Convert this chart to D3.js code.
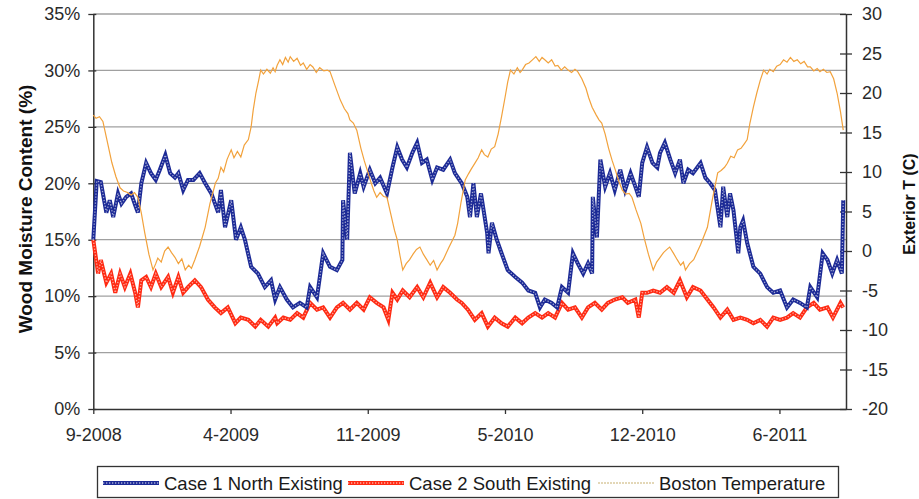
<!DOCTYPE html>
<html>
<head>
<meta charset="utf-8">
<script src="https://cdn.jsdelivr.net/npm/d3@7"></script>
<style>
  html, body { margin: 0; padding: 0; background: #fff; }
  svg { display: block; font-family: "Liberation Sans", Arial, sans-serif; }
</style>
</head>
<body>
<svg id="chart" width="919" height="499"></svg>
<script>
// Days are counted from 28 Sep 2008.
const xTickDays = [0, 200, 400, 600, 800, 1000];
const xTickLabels = ["9-2008", "4-2009", "11-2009", "5-2010", "12-2010", "6-2011"];
const mcTicks = [0, 5, 10, 15, 20, 25, 30, 35];
const tempTicks = [-20, -15, -10, -5, 0, 5, 10, 15, 20, 25, 30];
const seriesNames = ["Case 1 North Existing", "Case 2 South Existing", "Boston Temperature"];

// Case 1 North Existing, wood moisture content (%)
const northDays = [0,5,11,19,24,29,36,41,48,55,62,65,70,77,84,91,97,105,112,119,124,131,138,146,155,163,172,182,186,192,201,208,215,221,230,240,250,259,265,272,282,291,301,311,316,326,335,345,355,363,364,370,374,381,389,394,403,411,418,428,436,443,450,457,465,472,479,486,494,501,510,520,527,537,545,549,554,559,565,574,576,581,588,595,604,615,625,634,644,651,658,668,676,683,692,699,706,714,721,727,728,734,739,746,753,760,768,775,783,790,795,800,807,815,822,826,833,841,848,855,860,867,874,885,892,899,906,914,918,924,928,933,940,943,947,953,962,972,982,991,1001,1011,1020,1030,1040,1045,1055,1063,1070,1077,1084,1091,1093];
const northMC = [15.0,20.2,20.1,17.4,18.5,17.0,19.1,18.2,18.8,19.1,17.9,17.4,20.0,21.8,20.9,20.3,21.2,22.5,20.9,20.5,20.9,19.4,20.3,20.3,20.9,20.0,19.1,17.4,19.4,16.1,18.5,15.0,16.1,15.0,12.6,12.0,10.8,11.4,9.7,10.8,9.7,9.0,9.4,9.0,10.8,9.9,13.8,12.6,12.3,13.2,18.5,15.0,22.7,19.1,20.9,19.7,21.2,20.0,20.5,19.1,21.4,23.2,22.1,21.4,22.7,23.6,21.8,22.1,20.3,21.4,21.2,22.1,20.9,20.0,18.8,17.0,20.0,17.0,19.1,15.6,13.8,16.5,15.0,13.8,12.3,11.7,11.2,10.5,10.3,9.0,9.7,9.4,9.0,10.8,10.3,13.8,12.9,12.0,12.9,12.0,18.8,15.2,22.1,19.7,20.9,19.4,21.2,19.4,20.9,19.7,18.8,21.8,23.2,21.8,21.4,22.7,23.6,22.1,20.9,22.1,20.0,21.2,20.9,21.8,20.5,20.0,19.4,16.1,19.7,17.0,19.1,17.6,13.8,16.1,16.7,14.7,12.6,12.0,10.8,10.3,10.5,9.0,9.7,9.4,9.0,10.8,9.9,13.8,13.2,12.0,13.2,12.0,18.5];

// Case 2 South Existing, wood moisture content (%)
const southDays = [0,7,11,19,26,32,39,46,54,61,65,70,77,84,91,99,109,116,124,131,138,148,157,167,177,186,196,207,215,226,236,244,255,265,268,277,287,297,306,316,326,335,345,355,364,374,384,394,403,413,423,430,436,443,451,461,472,481,491,501,510,520,530,537,546,556,566,575,585,595,604,615,625,634,644,654,663,673,683,692,702,712,721,731,741,750,760,771,779,790,795,800,807,816,826,836,846,855,865,874,885,895,904,914,924,933,943,953,962,972,982,991,1001,1011,1020,1030,1040,1050,1059,1070,1078,1089,1093];
const southMC = [15.0,12.0,13.2,11.2,12.0,10.3,12.0,10.8,12.0,10.3,9.0,11.4,11.7,10.8,12.0,10.8,11.7,10.3,11.7,10.3,10.8,11.4,10.8,9.7,9.0,8.5,9.0,7.6,8.1,7.9,7.3,7.9,7.3,8.1,7.6,8.1,7.9,8.5,8.1,9.4,8.8,9.0,8.1,9.0,9.4,8.8,9.4,8.8,9.9,9.4,9.0,7.9,10.3,9.7,10.5,9.9,10.8,9.9,11.2,9.9,10.8,10.3,9.7,9.4,8.8,7.9,8.5,7.3,8.1,7.6,7.3,8.1,7.6,8.1,8.5,8.1,8.5,8.1,9.4,8.8,9.0,8.1,9.0,9.4,8.8,9.4,9.7,9.9,9.4,9.7,8.1,10.3,10.3,10.5,10.3,10.8,10.3,11.4,9.9,10.8,10.5,9.7,9.0,8.1,8.8,7.9,8.1,7.9,7.6,7.9,7.3,8.1,7.9,8.1,8.5,8.1,9.0,9.4,8.8,9.0,8.1,9.4,9.0];

// Boston exterior temperature (C)
const tempDays = [0,4,9,14,20,27,33,39,44,50,55,60,65,70,75,81,87,91,94,99,104,109,114,119,124,129,134,139,143,148,155,163,170,178,182,186,190,195,201,205,210,215,220,226,230,233,237,241,244,248,253,258,262,265,268,272,276,280,284,287,292,297,302,306,311,316,320,325,330,336,341,345,352,360,366,371,374,379,384,390,395,399,405,409,413,418,423,428,434,439,443,447,451,456,461,466,471,476,481,486,491,496,501,506,510,518,527,531,536,542,547,551,556,561,566,570,575,580,585,590,595,600,604,608,613,618,622,625,630,635,640,645,650,654,658,663,668,673,677,682,687,692,697,702,706,712,718,722,727,733,737,741,746,751,756,761,766,771,776,781,785,791,798,803,809,816,821,826,831,836,840,845,851,856,860,863,869,875,885,895,902,910,915,920,924,929,934,939,944,949,953,957,962,967,972,977,982,986,991,996,1001,1006,1011,1016,1021,1026,1031,1036,1041,1045,1050,1055,1059,1064,1069,1074,1079,1084,1089,1093];
const tempC = [17.2,16.8,17.0,16.4,14.0,11.2,9.4,8.0,7.6,7.4,7.1,7.4,6.8,4.8,2.3,-0.4,-2.4,-1.6,-0.9,-1.4,0.0,0.5,-0.2,-0.8,-1.6,-1.0,-2.4,-1.8,-2.2,-1.1,0.6,3.0,6.0,8.6,9.2,10.6,10.0,11.6,12.8,11.8,12.6,11.9,13.4,14.1,15.7,17.8,20.0,21.6,22.9,22.4,23.0,22.5,23.2,22.7,23.5,24.2,23.6,24.5,23.9,24.6,24.0,24.4,23.5,23.8,23.0,23.6,23.3,22.6,23.2,22.8,22.9,22.7,21.0,19.1,18.0,17.4,16.6,16.2,15.3,13.0,11.4,10.3,8.6,7.6,6.8,7.4,6.9,6.8,4.5,2.6,1.4,-0.6,-2.4,-1.6,-1.1,-0.4,0.2,0.5,-0.4,-1.1,-1.8,-1.2,-2.4,-1.6,-1.1,0.4,2.0,3.5,6.2,9.0,9.8,10.4,11.1,11.8,12.8,12.2,11.9,12.9,13.2,14.8,17.0,19.4,21.4,22.9,22.4,23.2,22.6,22.9,23.6,23.8,24.2,24.6,24.0,24.5,24.2,23.8,24.2,23.4,23.5,22.9,23.3,22.9,22.6,23.0,22.7,21.8,20.6,19.4,18.2,17.2,16.6,16.2,14.8,13.0,11.5,10.2,8.8,7.7,7.2,7.3,6.8,5.2,3.5,1.6,-0.4,-2.4,-1.4,-0.8,-0.2,0.2,0.5,-0.2,-1.1,-1.8,-1.4,-2.4,-1.6,-1.1,0.8,3.0,6.4,9.9,10.2,10.6,11.1,12.0,11.8,12.8,13.0,13.6,14.1,16.2,18.2,20.0,21.6,22.9,22.4,23.0,22.7,23.4,23.6,24.2,23.9,24.5,24.0,24.2,23.7,24.0,23.3,23.3,22.8,23.1,22.7,23.0,22.6,22.7,21.8,20.0,17.6,15.3];

const colors = { north: "#1c2a96", south: "#ff2a12", temp: "#f2a23c", grid: "#a0a0a0", axis: "#333" };
const tickFont = "18px";

const plot = { left: 93.3, right: 846, top: 14, bottom: 409 };
const svg = d3.select("#chart");

const x = d3.scaleLinear().domain([0, 1097]).range([plot.left, plot.right]);
const yMC = d3.scaleLinear().domain([0, 35]).range([plot.bottom, plot.top]);
const yT = d3.scaleLinear().domain([-20, 30]).range([plot.bottom, plot.top]);

// horizontal gridlines at every 5 %
svg.append("g")
  .selectAll("line")
  .data(mcTicks.filter(d => d > 0))
  .join("line")
  .attr("x1", plot.left).attr("x2", plot.right)
  .attr("y1", d => yMC(d)).attr("y2", d => yMC(d))
  .attr("stroke", colors.grid).attr("stroke-width", 1.3);

function styleAxis(g) {
  g.select(".domain").attr("stroke", colors.axis).attr("stroke-width", 1.5);
  g.selectAll(".tick line").attr("stroke", colors.axis).attr("stroke-width", 1.3);
  g.selectAll(".tick text")
    .attr("fill", "#2a2a2a")
    .style("font-size", tickFont)
    .style("font-family", "'Liberation Sans', Arial, sans-serif");
}

// left axis: moisture content
const gL = svg.append("g")
  .attr("transform", `translate(${plot.left},0)`)
  .call(d3.axisLeft(yMC).tickValues(mcTicks).tickFormat(d => d + "%")
    .tickSize(5).tickSizeOuter(0).tickPadding(8));
styleAxis(gL);
gL.selectAll(".tick line").attr("x2", -5).attr("x1", 3);

// right axis: temperature
const gR = svg.append("g")
  .attr("transform", `translate(${plot.right},0)`)
  .call(d3.axisRight(yT).tickValues(tempTicks).tickFormat(d3.format("d"))
    .tickSize(5).tickSizeOuter(0).tickPadding(11));
styleAxis(gR);
gR.selectAll(".tick line").attr("x1", -6).attr("x2", 6);
gR.selectAll(".tick text").text(d => d < 0 ? "-" + Math.abs(d) : d);

// bottom axis: dates
const gB = svg.append("g")
  .attr("transform", `translate(0,${plot.bottom})`)
  .call(d3.axisBottom(x).tickValues(xTickDays).tickFormat((d, i) => xTickLabels[i])
    .tickSize(5).tickSizeOuter(0).tickPadding(14));
styleAxis(gB);

// series
const lineMC = (days, vals) => d3.line()
  .x((d, i) => x(days[i]))
  .y((d, i) => yMC(vals[i]))(vals);
const lineT = d3.line()
  .x((d, i) => x(tempDays[i]))
  .y((d, i) => yT(tempC[i]));

// moisture series are drawn as chains of small hollow markers
const gSeries = svg.append("g");
function markerLine(g, path, color) {
  g.append("path").attr("d", path)
    .attr("fill", "none").attr("stroke", color)
    .attr("stroke-width", 4).attr("stroke-linejoin", "miter");
  g.append("path").attr("d", path)
    .attr("fill", "none").attr("stroke", "#fff").attr("stroke-opacity", 0.6)
    .attr("stroke-width", 1.3).attr("stroke-dasharray", "1.3 1.7");
}
markerLine(gSeries, lineMC(southDays, southMC), colors.south);
markerLine(gSeries, lineMC(northDays, northMC), colors.north);
gSeries.append("path").attr("d", lineT(tempC))
  .attr("fill", "none").attr("stroke", colors.temp).attr("stroke-width", 1.2);

// axis titles
svg.append("text")
  .attr("transform", "translate(32,209) rotate(-90)")
  .attr("text-anchor", "middle")
  .style("font-size", "19px").style("font-weight", "bold").attr("fill", "#111")
  .text("Wood Moisture Content (%)");
svg.append("text")
  .attr("transform", "translate(915,204) rotate(-90)")
  .attr("text-anchor", "middle")
  .style("font-size", "16px").style("font-weight", "bold").attr("fill", "#111")
  .text("Exterior T (C)");

// legend
const legend = svg.append("g");
legend.append("rect")
  .attr("x", 97.5).attr("y", 466.5).attr("width", 741).attr("height", 31)
  .attr("fill", "#fff").attr("stroke", "#333").attr("stroke-width", 1.3);
const legendItems = [
  { name: seriesNames[0], color: colors.north, x0: 103, kind: "marker" },
  { name: seriesNames[1], color: colors.south, x0: 348, kind: "marker" },
  { name: seriesNames[2], color: "#c8b070", x0: 598, kind: "thin" }
];
legendItems.forEach(it => {
  const yL = 483;
  const seg = `M${it.x0},${yL}H${it.x0 + 56}`;
  if (it.kind === "marker") {
    markerLine(legend, seg, it.color);
  } else {
    legend.append("path").attr("d", seg)
      .attr("stroke", it.color).attr("stroke-width", 1.2).attr("stroke-dasharray", "2 1");
  }
  legend.append("text").attr("x", it.x0 + 61).attr("y", yL + 7)
    .style("font-size", "18.5px").attr("fill", "#1a1a1a").text(it.name);
});
</script>
</body>
</html>
